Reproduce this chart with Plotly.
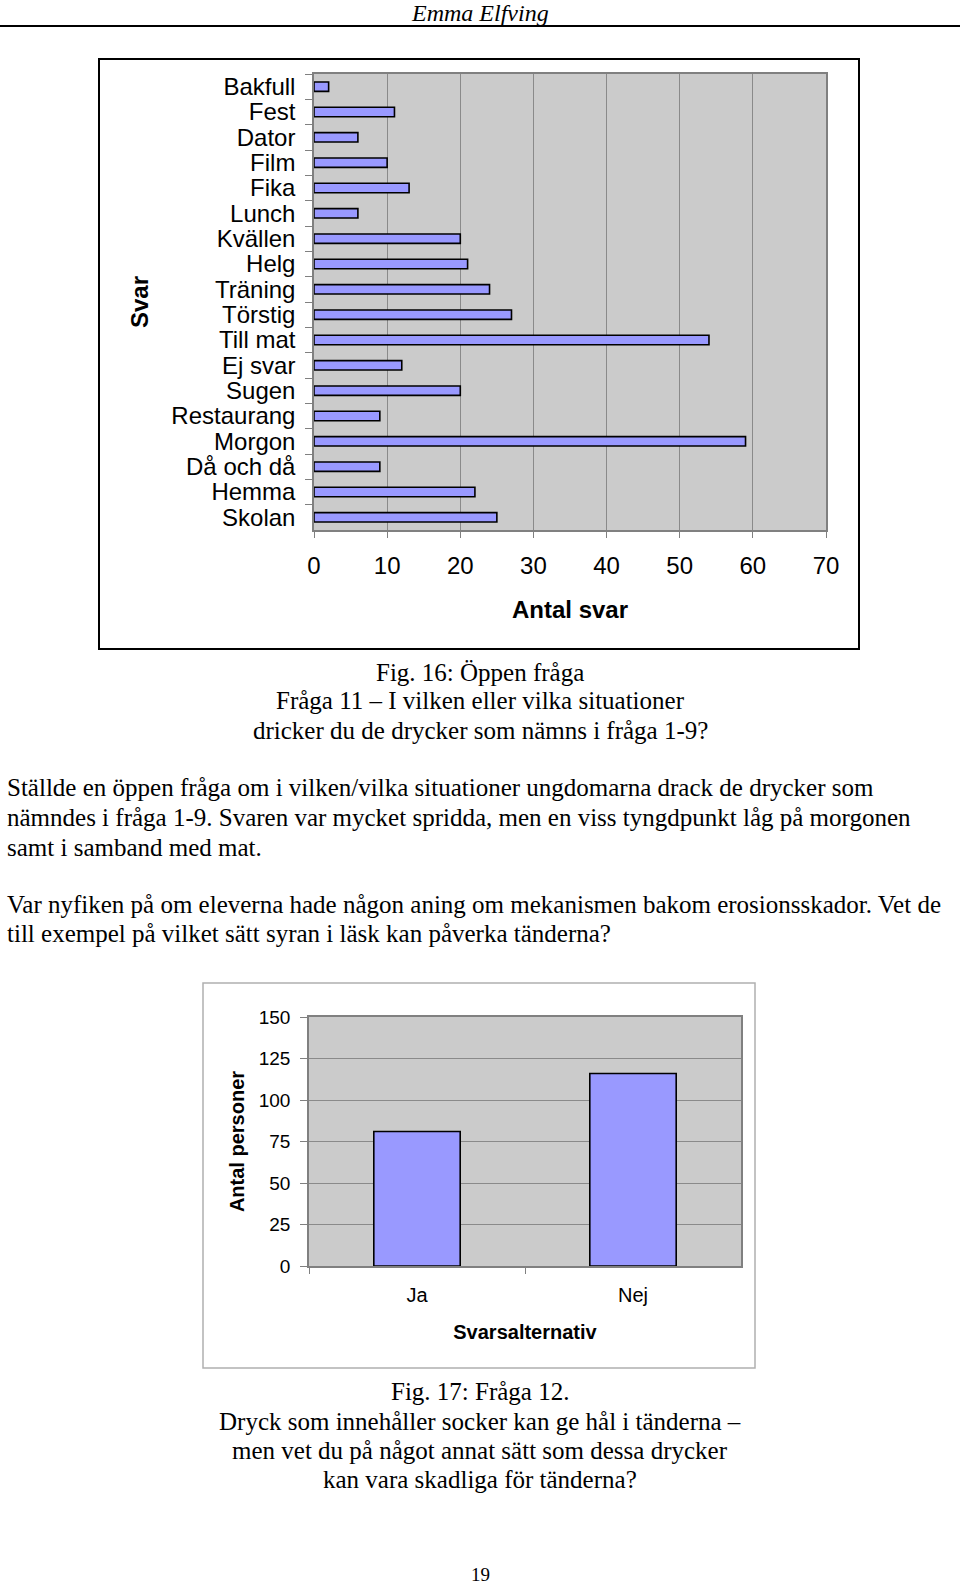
import plotly.graph_objects as go

W, H = 960, 1585

# ---- data: chart 1 (Fig. 16) ----
situations = ["Bakfull", "Fest", "Dator", "Film", "Fika", "Lunch", "Kvällen", "Helg",
              "Träning", "Törstig", "Till mat", "Ej svar", "Sugen", "Restaurang",
              "Morgon", "Då och då", "Hemma", "Skolan"]
situation_counts = [2, 11, 6, 10, 13, 6, 20, 21, 24, 27, 54, 12, 20, 9, 59, 9, 22, 25]
x1_ticks = [0, 10, 20, 30, 40, 50, 60, 70]

# ---- data: chart 2 (Fig. 17) ----
answers = ["Ja", "Nej"]
answer_counts = [81, 116]
y2_ticks = [0, 25, 50, 75, 100, 125, 150]


def px(x):
    return x / W


def py(y):
    return 1 - y / H


SANS = "Liberation Sans, Arial, sans-serif"
SERIF = "Liberation Serif, Times New Roman, serif"
BAR_FILL = "#9999FF"
PLOT_BG = "#CBCBCB"
GRID = "#8A8A8A"

fig = go.Figure()

fig.add_trace(go.Bar(
    x=situation_counts, y=situations, orientation="h",
    xaxis="x", yaxis="y", width=0.37,
    marker=dict(color=BAR_FILL, line=dict(color="#000000", width=1.6)),
    showlegend=False,
))

fig.add_trace(go.Bar(
    x=answers, y=answer_counts,
    xaxis="x2", yaxis="y2", width=0.4,
    marker=dict(color=BAR_FILL, line=dict(color="#000000", width=1.6)),
    showlegend=False,
))

axis_common = dict(showline=True, linecolor="#808080", linewidth=1.5, mirror=True,
                   ticks="outside", tickcolor="#808080", tickwidth=1, automargin=False,
                   zeroline=False)

fig.update_layout(
    width=W, height=H,
    margin=dict(l=0, r=0, t=0, b=0),
    paper_bgcolor="white",
    plot_bgcolor=PLOT_BG,
    showlegend=False,
    xaxis=dict(
        domain=[px(314), px(826)], anchor="y",
        range=[0, 70], tickmode="array", tickvals=x1_ticks, ticktext=[str(v) for v in x1_ticks],
        showgrid=True, gridcolor=GRID, gridwidth=1,
        ticklen=6, ticklabelstandoff=7,
        tickfont=dict(family=SANS, size=24, color="#000"),
        title=dict(text="Antal svar", standoff=24,
                   font=dict(family=SANS, size=24, color="#000", weight="bold")),
        **axis_common,
    ),
    yaxis=dict(
        domain=[py(530), py(74)], anchor="x",
        type="category", autorange="reversed", tickson="boundaries",
        tickmode="array", tickvals=situations, ticktext=situations,
        showgrid=False, ticklen=7, ticklabelstandoff=12,
        tickfont=dict(family=SANS, size=24, color="#000"),
        title=dict(text="Svar", standoff=16,
                   font=dict(family=SANS, size=24, color="#000", weight="bold")),
        **axis_common,
    ),
    xaxis2=dict(
        domain=[px(309), px(741)], anchor="y2",
        type="category", tickson="boundaries", showgrid=False,
        ticklen=6, ticklabelstandoff=10,
        tickfont=dict(family=SANS, size=20, color="#000"),
        title=dict(text="Svarsalternativ", standoff=20,
                   font=dict(family=SANS, size=20, color="#000", weight="bold")),
        **axis_common,
    ),
    yaxis2=dict(
        domain=[py(1266), py(1017)], anchor="x2",
        range=[0, 150], tickmode="array", tickvals=y2_ticks, ticktext=[str(v) for v in y2_ticks],
        showgrid=True, gridcolor=GRID, gridwidth=1,
        ticklen=7, ticklabelstandoff=6,
        tickfont=dict(family=SANS, size=19, color="#000"),
        title=dict(text="Antal personer", standoff=9,
                   font=dict(family=SANS, size=20, color="#000", weight="bold")),
        **axis_common,
    ),
)

shapes = [
    dict(type="line", xref="paper", yref="paper", x0=0, x1=1, y0=py(26), y1=py(26),
         line=dict(color="#000", width=2)),
    dict(type="rect", xref="paper", yref="paper", x0=px(99), x1=px(859), y0=py(649), y1=py(59),
         line=dict(color="#000", width=2), fillcolor="rgba(0,0,0,0)"),
    dict(type="rect", xref="paper", yref="paper", x0=px(203), x1=px(755), y0=py(1368), y1=py(983),
         line=dict(color="#B0B0B0", width=1.5), fillcolor="rgba(0,0,0,0)"),
]
fig.update_layout(shapes=shapes)

annotations = []


def text(t, x, y, anchor="center", size=25, italic=False):
    annotations.append(dict(
        text=t, x=px(x), y=py(y), xref="paper", yref="paper",
        xanchor=anchor, yanchor="middle", showarrow=False,
        font=dict(family=SERIF, size=size, color="#000",
                  style="italic" if italic else "normal"),
    ))


text("Emma Elfving", 480, 13.5, size=24, italic=True)

text("Fig. 16: Öppen fråga", 480, 672)
text("Fråga 11 – I vilken eller vilka situationer", 480, 701)
text("dricker du de drycker som nämns i fråga 1-9?", 480, 730.5)

text("Ställde en öppen fråga om i vilken/vilka situationer ungdomarna drack de drycker som", 5, 788, anchor="left")
text("nämndes i fråga 1-9. Svaren var mycket spridda, men en viss tyngdpunkt låg på morgonen", 5, 817.5, anchor="left")
text("samt i samband med mat.", 5, 847, anchor="left")

text("Var nyfiken på om eleverna hade någon aning om mekanismen bakom erosionsskador. Vet de", 5, 904.5, anchor="left")
text("till exempel på vilket sätt syran i läsk kan påverka tänderna?", 5, 934, anchor="left")

text("Fig. 17: Fråga 12.", 480, 1391.5)
text("Dryck som innehåller socker kan ge hål i tänderna –", 480, 1421)
text("men vet du på något annat sätt som dessa drycker", 480, 1450)
text("kan vara skadliga för tänderna?", 480, 1479)

text("19", 480, 1574, size=19)

fig.update_layout(annotations=annotations)

fig.write_html("out.html")
